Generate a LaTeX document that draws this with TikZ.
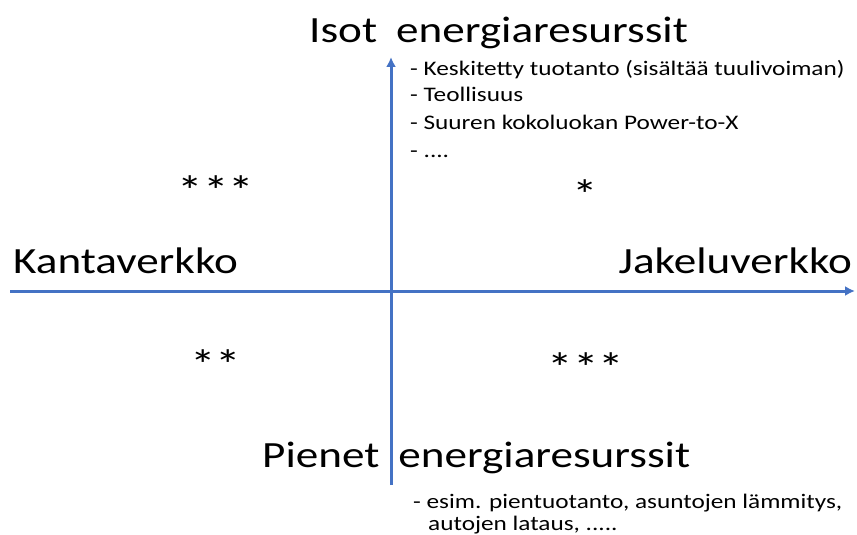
\documentclass[tikz,border=0pt]{standalone}
\usepackage{fontspec}
\setmainfont[FakeStretch=1.22]{Carlito}
\usetikzlibrary{arrows.meta}
\definecolor{axisblue}{RGB}{68,114,196}

\begin{document}
\begin{tikzpicture}[x=1pt,y=-1pt]
\tikzstyle{axis}=[draw=axisblue,line width=3pt,-{Latex[length=10pt,width=10pt]}]
\tikzstyle{title}=[inner sep=0pt,font=\fontsize{37}{44}\selectfont]
\tikzstyle{stars}=[inner sep=0pt,anchor=base,font=\fontsize{42}{50}\selectfont]
\tikzstyle{item}=[inner sep=0pt,anchor=base west,font=\fontsize{20.7}{25}\selectfont]

\useasboundingbox (0,0) rectangle (857,535);

% axes
\coordinate (west) at (10,291);
\coordinate (east) at (855,291);
\coordinate (south) at (391,485);
\coordinate (north) at (391,57);
\draw[axis] (west) -- (east);
\draw[axis] (south) -- (north);

% axis titles
\node[title,anchor=base west] (kanta) at (13,273) {Kantaverkko};
\node[title,anchor=base east] (jakelu) at (852,273) {Jakeluverkko};
\node[title,anchor=base west] (isot) at (309,43) {Isot\hspace{19pt}energiaresurssit};
\node[title,anchor=base west] (pienet) at (262,467) {Pienet\hspace{19pt}energiaresurssit};

% examples
\node[item] (isot1) at (410,75) {- Keskitetty tuotanto (sisältää tuulivoiman)};
\node[item] (isot2) at (410,102) {- Teollisuus};
\node[item] (isot3) at (410,129) {- Suuren kokoluokan Power-to-X};
\node[item] (isot4) at (410,157) {- ....};
\node[item] (pienet1) at (413,508) {- esim. pientuotanto, asuntojen lämmitys,};
\node[item] (pienet2) at (428,530) {autojen lataus, .....};

% ratings
\node[stars] (nw) at (216,205) {***};
\node[stars] (ne) at (585,209) {*};
\node[stars] (sw) at (216,379) {**};
\node[stars] (se) at (586,382) {***};

\end{tikzpicture}
\end{document}
